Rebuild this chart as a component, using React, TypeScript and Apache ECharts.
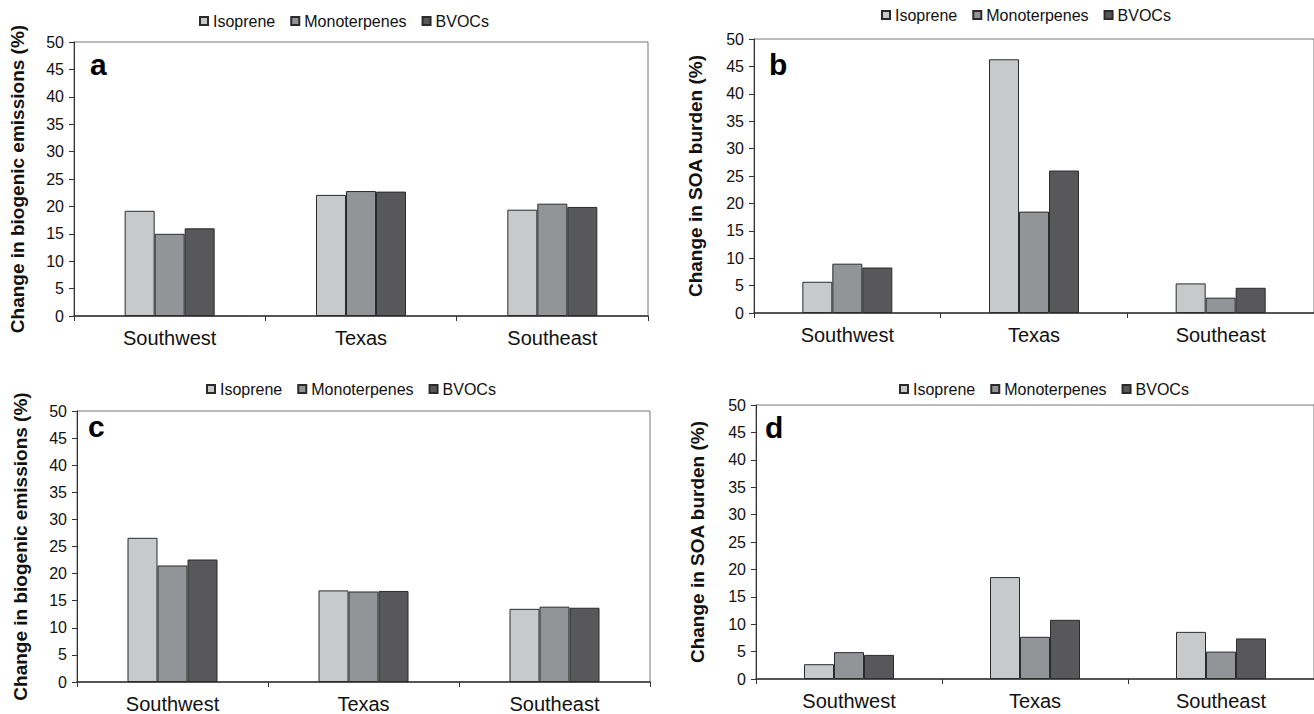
import React, { useEffect, useRef } from "react";
import * as echarts from "echarts";

const categories = ["Southwest", "Texas", "Southeast"];
const seriesNames = ["Isoprene", "Monoterpenes", "BVOCs"];
const colors = ["#c8c9cb", "#939498", "#58585a"];

// panel a: change in biogenic emissions (%)
const aIsoprene = [19.2, 22.1, 19.4];
const aMonoterpenes = [15.0, 22.8, 20.5];
const aBVOCs = [16.0, 22.7, 19.9];
// panel b: change in SOA burden (%)
const bIsoprene = [5.7, 46.3, 5.4];
const bMonoterpenes = [9.0, 18.5, 2.8];
const bBVOCs = [8.3, 26.0, 4.6];
// panel c: change in biogenic emissions (%)
const cIsoprene = [26.6, 16.9, 13.5];
const cMonoterpenes = [21.5, 16.7, 13.9];
const cBVOCs = [22.6, 16.8, 13.7];
// panel d: change in SOA burden (%)
const dIsoprene = [2.7, 18.6, 8.6];
const dMonoterpenes = [4.9, 7.7, 5.0];
const dBVOCs = [4.4, 10.8, 7.4];

const yTitles = [
  "Change in biogenic emissions (%)",
  "Change in SOA burden (%)",
  "Change in biogenic emissions (%)",
  "Change in SOA burden (%)",
];
const panelLetters = ["a", "b", "c", "d"];

const FONT = "'Liberation Sans', Arial, sans-serif";

export default function App() {
  const ref = useRef<HTMLDivElement>(null);
  useEffect(() => {
    if (!ref.current) return;
    const chart = echarts.init(ref.current, undefined, { renderer: "svg" });
    const panels = [
      [aIsoprene, aMonoterpenes, aBVOCs],
      [bIsoprene, bMonoterpenes, bBVOCs],
      [cIsoprene, cMonoterpenes, cBVOCs],
      [dIsoprene, dMonoterpenes, dBVOCs],
    ];
    const grids = [
      { left: 74, top: 42, width: 574, height: 274 },
      { left: 754, top: 39, width: 576, height: 274 },
      { left: 77, top: 411, width: 573, height: 274 },
      { left: 756, top: 405, width: 576, height: 274 },
    ];
    const legendPos = [
      { left: 199, top: 13 },
      { left: 881, top: 7 },
      { left: 206, top: 381 },
      { left: 899, top: 381 },
    ];
    const letterPos = [
      { x: 90, y: 64 },
      { x: 769, y: 64 },
      { x: 88, y: 426 },
      { x: 765, y: 427 },
    ];
    const series: any[] = [];
    panels.forEach((p, gi) => {
      p.forEach((vals, si) => {
        series.push({
          type: "bar",
          name: seriesNames[si],
          xAxisIndex: gi,
          yAxisIndex: gi,
          data: vals,
          barWidth: 30,
          barGap: "0%",
          itemStyle: { color: colors[si], borderColor: "#2b2b2b", borderWidth: 1 },
        });
      });
    });
    chart.setOption({
      animation: false,
      backgroundColor: "#ffffff",
      textStyle: { fontFamily: FONT },
      grid: grids.map((g) => ({
        ...g,
        show: true,
        borderColor: "#777777",
        borderWidth: 1,
        backgroundColor: "transparent",
      })),
      legend: legendPos.map((lp) => ({
        ...lp,
        orient: "horizontal",
        padding: 0,
        itemWidth: 8,
        itemHeight: 8,
        itemGap: 15,
        icon: "rect",
        data: seriesNames,
        selectedMode: false,
        textStyle: { fontSize: 16, color: "#111", fontFamily: FONT },
      })),
      xAxis: grids.map((_, i) => ({
        type: "category",
        gridIndex: i,
        data: categories,
        axisLine: { show: true, lineStyle: { color: "#333", width: 1.5 } },
        axisTick: { show: true, length: 5, lineStyle: { color: "#333" } },
        axisLabel: { fontSize: 20, color: "#111", margin: 12, fontFamily: FONT },
        splitLine: { show: false },
      })),
      yAxis: grids.map((_, i) => ({
        type: "value",
        gridIndex: i,
        min: 0,
        max: 50,
        interval: 5,
        name: yTitles[i],
        nameLocation: "middle",
        nameGap: i % 2 === 0 ? 47 : 49,
        nameTextStyle: { fontSize: 19, fontWeight: "bold", color: "#111", fontFamily: FONT },
        axisLine: { show: true, lineStyle: { color: "#333", width: 1 } },
        axisTick: { show: true, length: 5, lineStyle: { color: "#333" } },
        axisLabel: { fontSize: 16, color: "#111", margin: 10, fontFamily: FONT },
        splitLine: { show: false },
      })),
      graphic: letterPos.map((lp, i) => ({
        type: "text",
        x: lp.x,
        y: lp.y,
        z: 100,
        style: {
          text: panelLetters[i],
          fontSize: 30,
          fontWeight: "bold",
          fontFamily: FONT,
          fill: "#000",
          verticalAlign: "middle",
          align: "left",
        },
      })),
      series,
    });
    return () => chart.dispose();
  }, []);
  return (
    <div
      ref={ref}
      style={{ position: "fixed", left: 0, top: 0, width: 1314, height: 714, background: "#fff" }}
    />
  );
}
